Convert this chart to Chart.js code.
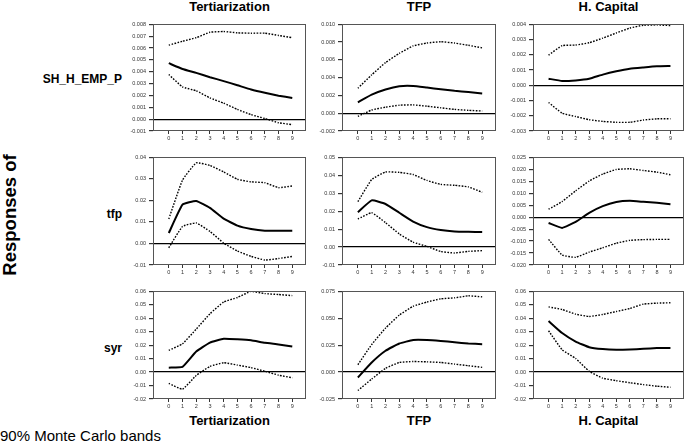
<!DOCTYPE html>
<html>
<head>
<meta charset="utf-8">
<script src="https://cdn.jsdelivr.net/npm/chart.js@4/dist/chart.umd.min.js"></script>
<style>
  body { margin: 0; width: 685px; height: 448px; overflow: hidden; background: #fff;
         position: relative; font-family: "Liberation Sans", Arial, sans-serif; }
  .lbl { position: absolute; white-space: nowrap; color: #000; }
  .ttl { font-weight: bold; font-size: 13px; line-height: 14px; text-align: center; }
  .row { font-weight: bold; font-size: 12px; line-height: 12px; text-align: right; }
  canvas { position: absolute; }
</style>
</head>
<body>
<script>
// ── Data ─────────────────────────────────────────────────────
const periods  = [0, 1, 2, 3, 4, 5, 6, 7, 8, 9];
const shocks   = ['Tertiarization', 'TFP', 'H. Capital'];
const responses = ['SH_H_EMP_P', 'tfp', 'syr'];

// SH_H_EMP_P responses
const emp_tert_mid = [0.00472, 0.00423, 0.0039, 0.00354, 0.00321, 0.00286, 0.0025, 0.00222, 0.00198, 0.00179];
const emp_tert_hi  = [0.00624, 0.00657, 0.00687, 0.00733, 0.00739, 0.00728, 0.00725, 0.00725, 0.00706, 0.00687];
const emp_tert_lo  = [0.00376, 0.00272, 0.00239, 0.00179, 0.00135, 0.00082, 0.00038, 0.00005, -0.0003, -0.00047];

const emp_tfp_mid  = [0.00123, 0.00209, 0.00267, 0.00303, 0.00306, 0.00288, 0.0027, 0.00252, 0.00238, 0.00223];
const emp_tfp_hi   = [0.00281, 0.00432, 0.00569, 0.00674, 0.00757, 0.00789, 0.00804, 0.00789, 0.00764, 0.00735];
const emp_tfp_lo   = [-0.00036, 0.00036, 0.00068, 0.0009, 0.00094, 0.00079, 0.00061, 0.00043, 0.00032, 0.00025];

const emp_hc_mid   = [0.00043, 0.00028, 0.00032, 0.00043, 0.0007, 0.00092, 0.00109, 0.00117, 0.00124, 0.00126];
const emp_hc_hi    = [0.00198, 0.0026, 0.00264, 0.00279, 0.00309, 0.00343, 0.00375, 0.00394, 0.00396, 0.00392];
const emp_hc_lo    = [-0.00113, -0.00183, -0.00205, -0.00226, -0.00237, -0.00243, -0.00243, -0.00228, -0.0022, -0.0022];

// tfp responses
const tfp_tert_mid = [0.00485, 0.018, 0.0197, 0.0165, 0.0115, 0.0083, 0.0067, 0.0059, 0.0059, 0.0059];
const tfp_tert_hi  = [0.0114, 0.0294, 0.0374, 0.0362, 0.0332, 0.0298, 0.0286, 0.0282, 0.0259, 0.0267];
const tfp_tert_lo  = [-0.002, 0.0079, 0.0095, 0.0056, 0.0002, -0.0035, -0.006, -0.0077, -0.007, -0.006];

const tfp_tfp_mid  = [0.01945, 0.026, 0.024, 0.0191, 0.0142, 0.0111, 0.0095, 0.0087, 0.0085, 0.0084];
const tfp_tfp_hi   = [0.0253, 0.0376, 0.0418, 0.0416, 0.0404, 0.0371, 0.0349, 0.0344, 0.0335, 0.0305];
const tfp_tfp_lo   = [0.0156, 0.0191, 0.0136, 0.0073, 0.0027, 0.0004, -0.0025, -0.0033, -0.0024, -0.002];

const tfp_hc_mid   = [-0.00245, -0.0045, -0.002, 0.0018, 0.0046, 0.0063, 0.0068, 0.0064, 0.006, 0.0054];
const tfp_hc_hi    = [0.0033, 0.0065, 0.011, 0.0151, 0.018, 0.0199, 0.0202, 0.0195, 0.0188, 0.0177];
const tfp_hc_lo    = [-0.0093, -0.0158, -0.0168, -0.0146, -0.0128, -0.0109, -0.0097, -0.0094, -0.0093, -0.0093];

// syr responses
const syr_tert_mid = [0.0033, 0.0038, 0.0152, 0.0219, 0.0248, 0.0244, 0.0236, 0.0217, 0.0205, 0.019];
const syr_tert_hi  = [0.0161, 0.021, 0.0319, 0.0433, 0.052, 0.0554, 0.06, 0.0583, 0.0576, 0.0568];
const syr_tert_lo  = [-0.0084, -0.0127, -0.0025, 0.0042, 0.0069, 0.0052, 0.0033, 0.0006, -0.0023, -0.0042];

const syr_tfp_mid  = [-0.005, 0.0089, 0.0198, 0.0265, 0.0298, 0.0298, 0.0289, 0.0277, 0.0265, 0.0259];
const syr_tfp_hi   = [0.0068, 0.0256, 0.0408, 0.0529, 0.0611, 0.065, 0.068, 0.0689, 0.0708, 0.0698];
const syr_tfp_lo   = [-0.0171, -0.0065, 0.0035, 0.0089, 0.0098, 0.0095, 0.0089, 0.0074, 0.0059, 0.0044];

const syr_hc_mid   = [0.0379, 0.029, 0.0227, 0.0185, 0.0171, 0.0166, 0.0168, 0.0173, 0.0178, 0.0178];
const syr_hc_hi    = [0.0484, 0.0465, 0.043, 0.0413, 0.0428, 0.045, 0.0472, 0.0505, 0.0512, 0.0515];
const syr_hc_lo    = [0.0307, 0.0166, 0.0101, 0.0006, -0.0045, -0.0064, -0.0079, -0.0093, -0.0105, -0.0113];

// y-axis ranges per panel (row-major): [min, max, step, decimals]
const yAxes = [
  [-0.001, 0.008, 0.001, 3], [-0.002, 0.010, 0.002, 3], [-0.003, 0.004, 0.001, 3],
  [-0.01, 0.04, 0.01, 2],    [-0.01, 0.05, 0.01, 2],    [-0.020, 0.025, 0.005, 3],
  [-0.02, 0.06, 0.01, 2],    [-0.025, 0.075, 0.025, 3], [-0.02, 0.06, 0.01, 2]
];

const series = [
  [emp_tert_mid, emp_tert_hi, emp_tert_lo], [emp_tfp_mid, emp_tfp_hi, emp_tfp_lo], [emp_hc_mid, emp_hc_hi, emp_hc_lo],
  [tfp_tert_mid, tfp_tert_hi, tfp_tert_lo], [tfp_tfp_mid, tfp_tfp_hi, tfp_tfp_lo], [tfp_hc_mid, tfp_hc_hi, tfp_hc_lo],
  [syr_tert_mid, syr_tert_hi, syr_tert_lo], [syr_tfp_mid, syr_tfp_hi, syr_tfp_lo], [syr_hc_mid, syr_hc_hi, syr_hc_lo]
];

// ── Layout (plot-area boxes) ─────────────────────────────────
const colLeft  = [153, 342, 533];
const colWidth = [153, 154, 151];
const rowTop   = [22, 155, 289];
const rowH     = [109, 110, 110];
const AXW = 30, PADT = 4, PADR = 2, AXH = 14;

// frame around each plot area
const framePlugin = {
  id: 'frame',
  afterDraw(chart) {
    const { ctx, chartArea: a } = chart;
    ctx.save();
    ctx.strokeStyle = '#555';
    ctx.lineWidth = 1;
    ctx.strokeRect(Math.round(a.left) + 0.5, Math.round(a.top) + 0.5,
                   Math.round(a.right - a.left) - 1, Math.round(a.bottom - a.top) - 1);
    ctx.restore();
  }
};

function addText(txt, cls, style) {
  const d = document.createElement('div');
  d.className = 'lbl ' + cls;
  d.textContent = txt;
  Object.assign(d.style, style);
  document.body.appendChild(d);
}

const pts = arr => periods.map((p, i) => ({ x: p, y: arr[i] }));

function makePanel(r, c) {
  const idx = r * 3 + c;
  const [ymin, ymax, ystep, dec] = yAxes[idx];
  const [mid, hi, lo] = series[idx];

  const cv = document.createElement('canvas');
  const W = colWidth[c] + AXW + PADR;
  const H = rowH[r] + PADT + AXH;
  cv.width = W; cv.height = H;
  cv.style.left = (colLeft[c] - AXW) + 'px';
  cv.style.top  = (rowTop[r] - PADT) + 'px';
  cv.style.width = W + 'px'; cv.style.height = H + 'px';
  document.body.appendChild(cv);

  const band = data => ({
    data: pts(data), borderColor: '#000', borderWidth: 1.4,
    borderDash: [1.6, 1.4], pointRadius: 0, tension: 0.12, fill: false
  });

  new Chart(cv, {
    type: 'line',
    data: {
      datasets: [
        { data: pts(mid), borderColor: '#000', borderWidth: 2, pointRadius: 0, tension: 0.12, fill: false },
        band(hi),
        band(lo)
      ]
    },
    options: {
      responsive: false, animation: false, devicePixelRatio: 1,
      layout: { padding: { top: PADT, right: PADR, left: 0, bottom: 0 } },
      plugins: { legend: { display: false }, tooltip: { enabled: false } },
      scales: {
        x: {
          type: 'linear', min: -1.15, max: 10,
          afterBuildTicks: s => { s.ticks = periods.map(p => ({ value: p })); },
          afterFit: s => { s.height = AXH; },
          border: { display: false },
          grid: { drawOnChartArea: false, tickLength: 3, tickColor: '#333', tickWidth: 1 },
          ticks: { color: '#333', font: { size: 5.5, family: '"Liberation Sans", Arial' },
                   padding: 1, maxRotation: 0, autoSkip: false, callback: v => String(v) }
        },
        y: {
          min: ymin, max: ymax,
          afterFit: s => { s.width = AXW; },
          border: { display: false },
          grid: {
            color: ctx => (ctx.tick && Math.abs(ctx.tick.value) < 1e-9) ? '#000' : 'rgba(0,0,0,0)',
            lineWidth: 1.2, tickLength: 4, tickColor: '#333'
          },
          ticks: { stepSize: ystep, color: '#333', padding: 3, autoSkip: false,
                   font: { size: 5.5, family: '"Liberation Sans", Arial' },
                   callback: v => (Math.abs(v) < 1e-9 ? 0 : v).toFixed(dec) }
        }
      }
    },
    plugins: [framePlugin]
  });
}

for (let r = 0; r < 3; r++) for (let c = 0; c < 3; c++) makePanel(r, c);

// ── Text ─────────────────────────────────────────────────────
shocks.forEach((s, c) => {
  const cx = colLeft[c] + colWidth[c] / 2;
  addText(s, 'ttl', { left: (cx - 60) + 'px', width: '120px', top: '0px' });
  addText(s, 'ttl', { left: (cx - 60) + 'px', width: '120px', top: '414px' });
});
const rowBase = [83, 218, 352];
responses.forEach((s, r) => {
  addText(s, 'row', { left: '0px', width: '122px', top: (rowBase[r] - 10) + 'px' });
});
addText('Responses of', '', {
  left: '-52px', top: '205px', width: '124px', textAlign: 'center',
  fontWeight: 'bold', fontSize: '18.5px', lineHeight: '20px', transform: 'rotate(-90deg)'
});
addText('90% Monte Carlo bands', '', { left: '0px', top: '428px', fontSize: '15px', lineHeight: '16px' });
</script>
</body>
</html>
